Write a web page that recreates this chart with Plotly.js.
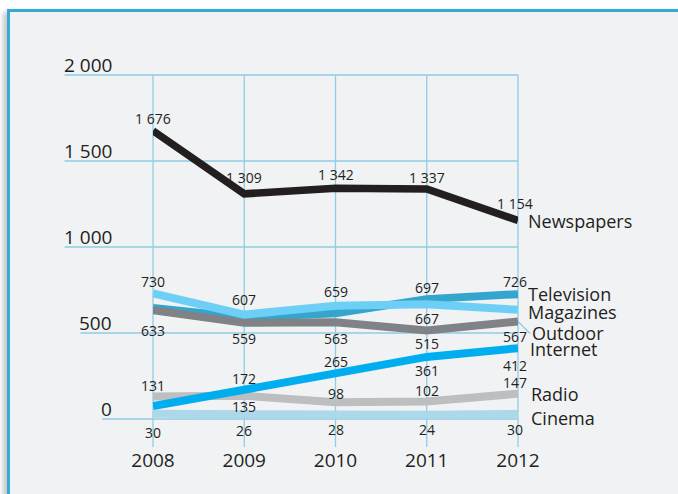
<!DOCTYPE html>
<html>
<head>
<meta charset="utf-8">
<script src="https://cdn.plot.ly/plotly-3.0.1.min.js"></script>
<style>
  html, body { margin: 0; padding: 0; background: #ffffff; overflow: hidden; width: 678px; height: 494px; }
  #frame { position: absolute; left: 7px; top: 9px; width: 720px; height: 520px;
           border-top: 3px solid #36aad4; border-left: 3px solid #36aad4;
           background: #f1f2f4; box-shadow: -4px 3px 5px rgba(0,0,0,0.22); }
  #chart { position: absolute; left: 0; top: 0; width: 678px; height: 494px; }
</style>
</head>
<body>
<div id="frame"></div>
<div id="chart"></div>
<script>
// ---------------- data ----------------
const years = [2008, 2009, 2010, 2011, 2012];
const newspapers = [1676, 1309, 1342, 1337, 1154];
const television = [645, 590, 615, 697, 726];
const magazines  = [730, 607, 659, 667, 635];
const outdoor    = [633, 559, 563, 515, 567];
const internet   = [75, 172, 265, 361, 412];
const radio      = [131, 135, 98, 102, 147];
const cinema     = [30, 26, 28, 24, 30];
const seriesNames = ['Newspapers', 'Television', 'Magazines', 'Outdoor', 'Internet', 'Radio', 'Cinema'];
const yTickVals = [0, 500, 1000, 1500, 2000];
const yTickText = ['0', '500', '1 000', '1 500', '2 000'];
// which points carry a printed value
const tvShown  = [false, false, false, true, true];
const magShown = [true, true, true, true, false];
const netShown = [false, true, true, true, true];
const allShown = [true, true, true, true, true];

// ---------------- styles / positions ----------------
const TXT = '#231f20';
const GRID = '#8fcde6';
const FONT = 'Open Sans, Noto Sans, sans-serif';
const yMin = -162.8, yMax = 2011.6;
const labelDx = [0, 0, 0, 0, -3];

const series = [
  // drawn in this order (bottom first)
  {name: 'Cinema',     y: cinema,     shown: allShown, color: '#acd8e9', w: 8,   dy: [19, 16, 15, 15, 16],     nameDy: 4,  nameX: 11},
  {name: 'Radio',      y: radio,      shown: allShown, color: '#bcbec0', w: 8,   dy: [-11, 11, -9, -11, -11],  nameDy: 0,  nameX: 11},
  {name: 'Internet',   y: internet,   shown: netShown, color: '#00aeef', w: 8,   dy: [0, -11, -12, 14, 17],    nameDy: 1,  nameX: 10},
  {name: 'Television', y: television, shown: tvShown,  color: '#34a6cd', w: 8,   dy: [0, 0, 0, -12, -13],      nameDy: 0,  nameX: 8},
  {name: 'Outdoor',    y: outdoor,    shown: allShown, color: '#808285', w: 8,   dy: [20, 16, 16, 13, 15],     nameDy: 12, nameX: 12},
  {name: 'Magazines',  y: magazines,  shown: magShown, color: '#6dcff6', w: 8,   dy: [-12, -15, -14, 14, 0],   nameDy: 2,  nameX: 8},
  {name: 'Newspapers', y: newspapers, shown: allShown, color: '#231f20', w: 7.5, dy: [-12, -16, -14, -12, -17], nameDy: 0, nameX: 8}
];

function fmt(v) { return String(v).replace(/\B(?=(\d{3})+(?!\d))/g, ' '); }

const traces = series.map(s => ({
  type: 'scatter', mode: 'lines', x: years, y: s.y, name: s.name,
  line: {color: s.color, width: s.w}, hoverinfo: 'skip', showlegend: false
}));

const plotW = 678 - 153 - 160;
const annotations = [];
const shapes = [];

// value labels
series.forEach(s => {
  s.y.forEach((v, i) => {
    if (!s.shown[i]) return;
    annotations.push({
      x: years[i], y: v, xref: 'x', yref: 'y', text: fmt(v), showarrow: false,
      xanchor: 'center', yanchor: 'middle', xshift: labelDx[i], yshift: -s.dy[i],
      font: {family: FONT, size: 14, color: TXT}
    });
  });
});

// series name labels at the right end
series.forEach(s => {
  const last = s.y[s.y.length - 1];
  if (s.name === 'Outdoor') {
    annotations.push({
      x: years[years.length - 1], y: last, xref: 'x', yref: 'y', text: s.name,
      showarrow: true, arrowhead: 0, arrowwidth: 1, arrowcolor: '#3aaad4',
      ax: s.nameX, ay: s.nameDy, axref: 'pixel', ayref: 'pixel',
      xanchor: 'left', yanchor: 'middle', standoff: 0,
      font: {family: FONT, size: 18, color: TXT}
    });
  } else {
    annotations.push({
      x: 1 + s.nameX / plotW, y: last, xref: 'paper', yref: 'y', text: s.name, showarrow: false,
      xanchor: 'left', yanchor: 'middle', yshift: -s.nameDy,
      font: {family: FONT, size: 18, color: TXT}
    });
  }
});

// y tick labels (sit above their gridlines) + horizontal gridlines starting at label's left edge
const cv = document.createElement('canvas').getContext('2d');
cv.font = '19px "Open Sans"';
const labelRight = 114 - 153; // px relative to plot left
yTickVals.forEach((v, i) => {
  annotations.push({
    x: labelRight / plotW, y: v, xref: 'paper', yref: 'y', text: yTickText[i], showarrow: false,
    xanchor: 'right', yanchor: 'bottom', yshift: -5,
    font: {family: FONT, size: 19, color: TXT}
  });
  const w = cv.measureText(yTickText[i]).width;
  shapes.push({
    type: 'line', xref: 'paper', yref: 'y', x0: (labelRight - w - 1) / plotW, x1: 1,
    y0: v, y1: v, line: {color: GRID, width: 1.3}, layer: 'below'
  });
});

// vertical gridlines
years.forEach(yr => {
  const px = (yr - years[0]) / (years[years.length - 1] - years[0]);
  shapes.push({
    type: 'line', xref: 'paper', yref: 'y', x0: px, x1: px, y0: yMin, y1: yTickVals[yTickVals.length - 1],
    line: {color: GRID, width: 1.3}, layer: 'below'
  });
});

const layout = {
  width: 678, height: 494,
  margin: {l: 153, r: 160, t: 73, b: 47, pad: 0},
  paper_bgcolor: 'rgba(0,0,0,0)', plot_bgcolor: 'rgba(0,0,0,0)',
  showlegend: false,
  xaxis: {
    range: [years[0], years[years.length - 1]], tickvals: years, ticktext: years.map(String),
    showgrid: false, zeroline: false, showline: false, ticks: '',
    tickfont: {family: FONT, size: 19, color: TXT}, fixedrange: true
  },
  yaxis: {
    range: [yMin, yMax], showgrid: false, zeroline: false, showline: false,
    showticklabels: false, ticks: '', fixedrange: true
  },
  annotations: annotations,
  shapes: shapes
};

Plotly.newPlot('chart', traces, layout, {displayModeBar: false, staticPlot: true});
</script>
</body>
</html>
